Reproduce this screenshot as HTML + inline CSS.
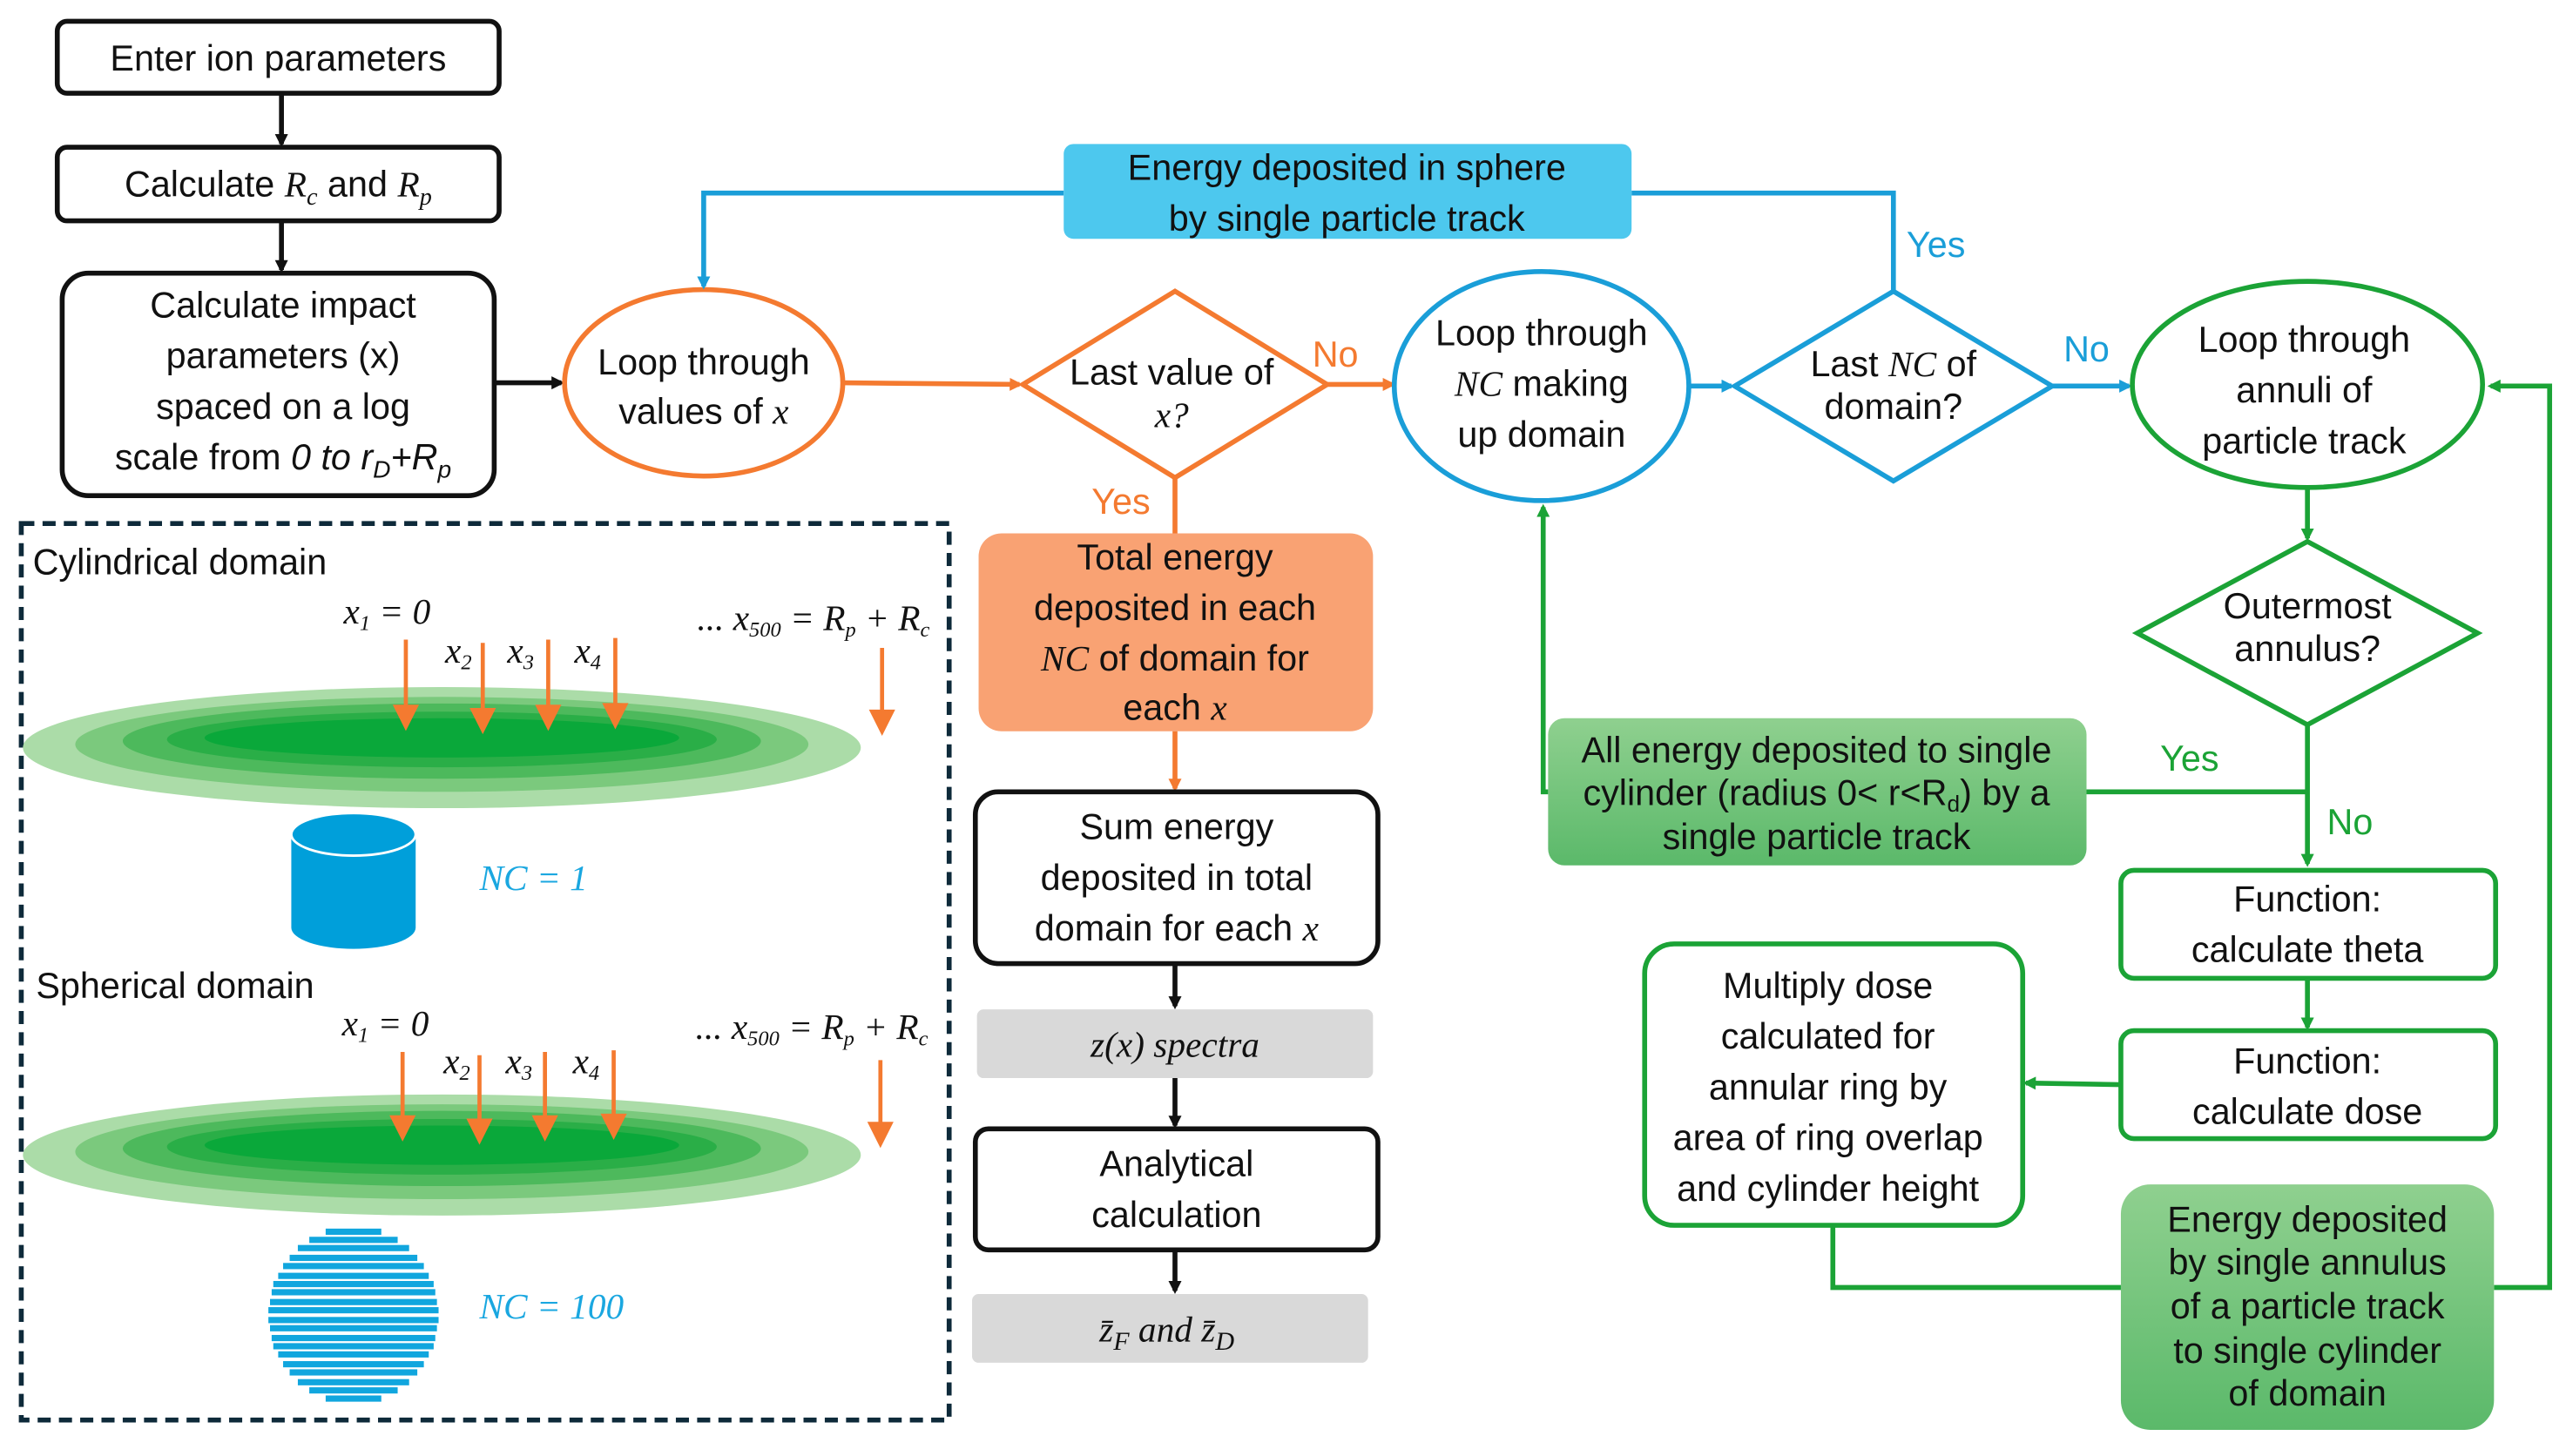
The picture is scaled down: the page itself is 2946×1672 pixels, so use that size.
<!DOCTYPE html>
<html><head><meta charset="utf-8"><style>
html,body{margin:0;padding:0;background:#fff;}
svg{display:block;}
text{font-family:"Liberation Sans",sans-serif;font-size:22px;fill:#111;}
.m{font-family:"Liberation Serif",serif;font-style:italic;}
</style></head><body>
<svg width="2946" height="1672" viewBox="0 0 1568 890" preserveAspectRatio="none" xmlns="http://www.w3.org/2000/svg">
<defs>
<marker id="ak" markerWidth="8" markerHeight="8" refX="6" refY="4" orient="auto" markerUnits="userSpaceOnUse"><path d="M0,0 L8,4 L0,8 Z" fill="#111"/></marker>
<marker id="ao" markerWidth="8" markerHeight="8" refX="6" refY="4" orient="auto" markerUnits="userSpaceOnUse"><path d="M0,0 L8,4 L0,8 Z" fill="#F47A30"/></marker>
<marker id="ab" markerWidth="8" markerHeight="8" refX="6" refY="4" orient="auto" markerUnits="userSpaceOnUse"><path d="M0,0 L8,4 L0,8 Z" fill="#1A9ED8"/></marker>
<marker id="ag" markerWidth="8" markerHeight="8" refX="6" refY="4" orient="auto" markerUnits="userSpaceOnUse"><path d="M0,0 L8,4 L0,8 Z" fill="#1BA336"/></marker>
<linearGradient id="gg" x1="0" y1="0" x2="0" y2="1"><stop offset="0" stop-color="#8fd08f"/><stop offset="1" stop-color="#5bb96a"/></linearGradient>
</defs>

<rect x="35" y="13" width="270" height="44" rx="6" fill="#fff" stroke="#111" stroke-width="3"/>
<text x="170" y="43" text-anchor="middle">Enter ion parameters</text>
<rect x="35" y="90" width="270" height="45" rx="6" fill="#fff" stroke="#111" stroke-width="3"/>
<text x="170" y="120" text-anchor="middle">Calculate <tspan class="m">R</tspan><tspan class="m" font-size="15" dy="5">c</tspan><tspan dy="-5"> and </tspan><tspan class="m">R</tspan><tspan class="m" font-size="15" dy="5">p</tspan></text>
<rect x="38" y="167" width="264" height="136" rx="16" fill="#fff" stroke="#111" stroke-width="3"/>
<text x="173" y="194" text-anchor="middle">Calculate impact</text>
<text x="173" y="225" text-anchor="middle">parameters (x)</text>
<text x="173" y="256" text-anchor="middle">spaced on a log</text>
<text x="173" y="287" text-anchor="middle">scale from <tspan font-style="italic">0 to r</tspan><tspan font-style="italic" font-size="15" dy="5">D</tspan><tspan dy="-5" font-style="italic">+R</tspan><tspan font-style="italic" font-size="15" dy="5">p</tspan></text>
<line x1="172" y1="57" x2="172" y2="88" stroke="#111" stroke-width="3" marker-end="url(#ak)"/>
<line x1="172" y1="135" x2="172" y2="165" stroke="#111" stroke-width="3" marker-end="url(#ak)"/>
<line x1="302" y1="234" x2="343" y2="234" stroke="#111" stroke-width="3" marker-end="url(#ak)"/>

<ellipse cx="430" cy="234" rx="85" ry="57" fill="#fff" stroke="#F47A30" stroke-width="3"/>
<text x="430" y="229" text-anchor="middle">Loop through</text>
<text x="430" y="259" text-anchor="middle">values of <tspan class="m">x</tspan></text>
<line x1="515" y1="234" x2="623" y2="235" stroke="#F47A30" stroke-width="3" marker-end="url(#ao)"/>
<polygon points="718,178 811,235 718,292 625,235" fill="#fff" stroke="#F47A30" stroke-width="3"/>
<text x="716" y="235" text-anchor="middle" font-size="20">Last value of</text>
<text x="716" y="261" text-anchor="middle" font-size="20" class="m">x?</text>
<line x1="811" y1="235" x2="851" y2="235" stroke="#F47A30" stroke-width="3" marker-end="url(#ao)"/>
<text x="816" y="224" text-anchor="middle" style="fill:#F47A30">No</text>
<line x1="718" y1="292" x2="718" y2="326" stroke="#F47A30" stroke-width="3"/>
<text x="685" y="314" text-anchor="middle" style="fill:#F47A30">Yes</text>
<rect x="598" y="326" width="241" height="121" rx="14" fill="#F9A273"/>
<text x="718" y="348" text-anchor="middle">Total energy</text>
<text x="718" y="379" text-anchor="middle">deposited in each</text>
<text x="718" y="410" text-anchor="middle"><tspan class="m">NC</tspan> of domain for</text>
<text x="718" y="440" text-anchor="middle">each <tspan class="m">x</tspan></text>
<line x1="718" y1="447" x2="718" y2="482" stroke="#F47A30" stroke-width="3" marker-end="url(#ao)"/>

<rect x="596" y="484" width="246" height="105" rx="14" fill="#fff" stroke="#111" stroke-width="3"/>
<text x="719" y="513" text-anchor="middle">Sum energy</text>
<text x="719" y="544" text-anchor="middle">deposited in total</text>
<text x="719" y="575" text-anchor="middle">domain for each <tspan class="m">x</tspan></text>
<line x1="718" y1="589" x2="718" y2="615" stroke="#111" stroke-width="3" marker-end="url(#ak)"/>
<rect x="597" y="617" width="242" height="42" rx="4" fill="#D9D9D9"/>
<text x="718" y="646" text-anchor="middle" class="m" font-size="24">z(x) spectra</text>
<line x1="718" y1="659" x2="718" y2="688" stroke="#111" stroke-width="3" marker-end="url(#ak)"/>
<rect x="596" y="690" width="246" height="74" rx="8" fill="#fff" stroke="#111" stroke-width="3"/>
<text x="719" y="719" text-anchor="middle">Analytical</text>
<text x="719" y="750" text-anchor="middle">calculation</text>
<line x1="718" y1="764" x2="718" y2="789" stroke="#111" stroke-width="3" marker-end="url(#ak)"/>
<rect x="594" y="791" width="242" height="42" rx="4" fill="#D9D9D9"/>
<text x="713" y="820" text-anchor="middle" class="m" font-size="24">z̄<tspan font-size="16" dy="5">F</tspan><tspan dy="-5"> and z̄</tspan><tspan font-size="16" dy="5">D</tspan></text>

<polyline points="650,118 430,118 430,175" fill="none" stroke="#1A9ED8" stroke-width="3" marker-end="url(#ab)"/>
<polyline points="1157,178 1157,118 997,118" fill="none" stroke="#1A9ED8" stroke-width="3"/>
<rect x="650" y="88" width="347" height="58" rx="6" fill="#4DC8EE"/>
<text x="823" y="110" text-anchor="middle">Energy deposited in sphere</text>
<text x="823" y="141" text-anchor="middle">by single particle track</text>
<text x="1183" y="157" text-anchor="middle" style="fill:#1A9ED8">Yes</text>
<ellipse cx="942" cy="236" rx="90" ry="70" fill="#fff" stroke="#1A9ED8" stroke-width="3"/>
<text x="942" y="211" text-anchor="middle">Loop through</text>
<text x="942" y="242" text-anchor="middle"><tspan class="m">NC</tspan> making</text>
<text x="942" y="273" text-anchor="middle">up domain</text>
<line x1="1032" y1="236" x2="1058" y2="236" stroke="#1A9ED8" stroke-width="3" marker-end="url(#ab)"/>
<polygon points="1157,178 1254,236 1157,294 1060,236" fill="#fff" stroke="#1A9ED8" stroke-width="3"/>
<text x="1157" y="230" text-anchor="middle" font-size="20">Last <tspan class="m">NC</tspan> of</text>
<text x="1157" y="256" text-anchor="middle" font-size="20">domain?</text>
<line x1="1254" y1="236" x2="1301" y2="236" stroke="#1A9ED8" stroke-width="3" marker-end="url(#ab)"/>
<text x="1275" y="221" text-anchor="middle" style="fill:#1A9ED8">No</text>

<ellipse cx="1410" cy="235" rx="107" ry="63" fill="#fff" stroke="#1BA336" stroke-width="3"/>
<text x="1408" y="215" text-anchor="middle">Loop through</text>
<text x="1408" y="246" text-anchor="middle">annuli of</text>
<text x="1408" y="277" text-anchor="middle">particle track</text>
<line x1="1410" y1="298" x2="1410" y2="329" stroke="#1BA336" stroke-width="3" marker-end="url(#ag)"/>
<polygon points="1410,331 1514,387 1410,443 1306,387" fill="#fff" stroke="#1BA336" stroke-width="3"/>
<text x="1410" y="378" text-anchor="middle" font-size="20">Outermost</text>
<text x="1410" y="404" text-anchor="middle" font-size="20">annulus?</text>
<line x1="1410" y1="443" x2="1410" y2="528" stroke="#1BA336" stroke-width="3" marker-end="url(#ag)"/>
<line x1="1410" y1="484" x2="1275" y2="484" stroke="#1BA336" stroke-width="3"/>
<text x="1338" y="471" text-anchor="middle" style="fill:#1BA336">Yes</text>
<text x="1436" y="510" text-anchor="middle" style="fill:#1BA336">No</text>
<polyline points="946,484 943,484 943,310" fill="none" stroke="#1BA336" stroke-width="3" marker-end="url(#ag)"/>
<rect x="946" y="439" width="329" height="90" rx="10" fill="url(#gg)"/>
<text x="1110" y="466" text-anchor="middle" font-size="20">All energy deposited to single</text>
<text x="1110" y="492" text-anchor="middle" font-size="20">cylinder (radius 0&lt; r&lt;R<tspan font-size="14" dy="4">d</tspan><tspan dy="-4">) by a</tspan></text>
<text x="1110" y="519" text-anchor="middle" font-size="20">single particle track</text>
<rect x="1296" y="532" width="229" height="66" rx="8" fill="#fff" stroke="#1BA336" stroke-width="3"/>
<text x="1410" y="557" text-anchor="middle">Function:</text>
<text x="1410" y="588" text-anchor="middle">calculate theta</text>
<line x1="1410" y1="598" x2="1410" y2="628" stroke="#1BA336" stroke-width="3" marker-end="url(#ag)"/>
<rect x="1296" y="630" width="229" height="66" rx="8" fill="#fff" stroke="#1BA336" stroke-width="3"/>
<text x="1410" y="656" text-anchor="middle">Function:</text>
<text x="1410" y="687" text-anchor="middle">calculate dose</text>
<line x1="1296" y1="663" x2="1238" y2="662" stroke="#1BA336" stroke-width="3" marker-end="url(#ag)"/>
<rect x="1005" y="577" width="231" height="172" rx="18" fill="#fff" stroke="#1BA336" stroke-width="3"/>
<text x="1117" y="610" text-anchor="middle">Multiply dose</text>
<text x="1117" y="641" text-anchor="middle">calculated for</text>
<text x="1117" y="672" text-anchor="middle">annular ring by</text>
<text x="1117" y="703" text-anchor="middle">area of ring overlap</text>
<text x="1117" y="734" text-anchor="middle">and cylinder height</text>
<polyline points="1120,749 1120,787 1296,787" fill="none" stroke="#1BA336" stroke-width="3"/>
<polyline points="1524,787 1558,787 1558,236 1522,236" fill="none" stroke="#1BA336" stroke-width="3" marker-end="url(#ag)"/>
<rect x="1296" y="724" width="228" height="150" rx="18" fill="url(#gg)"/>
<text x="1410" y="753" text-anchor="middle" font-size="20">Energy deposited</text>
<text x="1410" y="779" text-anchor="middle" font-size="20">by single annulus</text>
<text x="1410" y="806" text-anchor="middle" font-size="20">of a particle track</text>
<text x="1410" y="833" text-anchor="middle" font-size="20">to single cylinder</text>
<text x="1410" y="859" text-anchor="middle" font-size="20">of domain</text>

<rect x="13" y="320" width="567" height="548" fill="none" stroke="#0e2a3a" stroke-width="3" stroke-dasharray="8,5"/>
<text x="20" y="351">Cylindrical domain</text>
<g>
<ellipse cx="270" cy="457" rx="256" ry="37" fill="#ABDCA8"/>
<ellipse cx="270" cy="455" rx="224" ry="29" fill="#7BC97D"/>
<ellipse cx="270" cy="453" rx="195" ry="23" fill="#4DB95C"/>
<ellipse cx="270" cy="452" rx="168" ry="17" fill="#2AAE47"/>
<ellipse cx="270" cy="451" rx="145" ry="12" fill="#0AA83A"/>
</g>
<g stroke="#F47A30" stroke-width="2.5" fill="#F47A30">
<line x1="248" y1="391" x2="248" y2="433"/><path d="M242,432 L254,432 L248,444Z"/>
<line x1="295" y1="393" x2="295" y2="435"/><path d="M289,434 L301,434 L295,446Z"/>
<line x1="335" y1="391" x2="335" y2="433"/><path d="M329,432 L341,432 L335,444Z"/>
<line x1="376" y1="390" x2="376" y2="432"/><path d="M370,431 L382,431 L376,443Z"/>
<line x1="539" y1="396" x2="539" y2="436"/><path d="M533,435 L545,435 L539,447Z"/>
</g>
<text x="210" y="381" class="m" font-size="19">x<tspan font-size="13" dy="4">1</tspan><tspan dy="-4"> = 0</tspan></text>
<text x="272" y="405" class="m" font-size="19">x<tspan font-size="13" dy="4">2</tspan></text>
<text x="310" y="405" class="m" font-size="19">x<tspan font-size="13" dy="4">3</tspan></text>
<text x="351" y="405" class="m" font-size="19">x<tspan font-size="13" dy="4">4</tspan></text>
<text x="426" y="385" class="m" font-size="19">... x<tspan font-size="13" dy="4">500</tspan><tspan dy="-4"> = R</tspan><tspan font-size="13" dy="4">p</tspan><tspan dy="-4"> + R</tspan><tspan font-size="13" dy="4">c</tspan></text>
<path d="M178,510 L178,567 A38,13 0 0 0 254,567 L254,510 Z" fill="#009FDA"/>
<ellipse cx="216" cy="510" rx="38" ry="13" fill="#009FDA" stroke="#fff" stroke-width="1.5"/>
<text x="293" y="544" class="m" font-size="27" style="fill:#1AA7E0">NC = 1</text>

<text x="22" y="610">Spherical domain</text>
<g>
<ellipse cx="270" cy="706" rx="256" ry="37" fill="#ABDCA8"/>
<ellipse cx="270" cy="704" rx="224" ry="29" fill="#7BC97D"/>
<ellipse cx="270" cy="702" rx="195" ry="23" fill="#4DB95C"/>
<ellipse cx="270" cy="701" rx="168" ry="17" fill="#2AAE47"/>
<ellipse cx="270" cy="700" rx="145" ry="12" fill="#0AA83A"/>
</g>
<g stroke="#F47A30" stroke-width="2.5" fill="#F47A30">
<line x1="246" y1="643" x2="246" y2="684"/><path d="M240,683 L252,683 L246,695Z"/>
<line x1="293" y1="645" x2="293" y2="686"/><path d="M287,685 L299,685 L293,697Z"/>
<line x1="333" y1="643" x2="333" y2="684"/><path d="M327,683 L339,683 L333,695Z"/>
<line x1="375" y1="642" x2="375" y2="683"/><path d="M369,682 L381,682 L375,694Z"/>
<line x1="538" y1="648" x2="538" y2="688"/><path d="M532,687 L544,687 L538,699Z"/>
</g>
<text x="209" y="633" class="m" font-size="19">x<tspan font-size="13" dy="4">1</tspan><tspan dy="-4"> = 0</tspan></text>
<text x="271" y="656" class="m" font-size="19">x<tspan font-size="13" dy="4">2</tspan></text>
<text x="309" y="656" class="m" font-size="19">x<tspan font-size="13" dy="4">3</tspan></text>
<text x="350" y="656" class="m" font-size="19">x<tspan font-size="13" dy="4">4</tspan></text>
<text x="425" y="635" class="m" font-size="19">... x<tspan font-size="13" dy="4">500</tspan><tspan dy="-4"> = R</tspan><tspan font-size="13" dy="4">p</tspan><tspan dy="-4"> + R</tspan><tspan font-size="13" dy="4">c</tspan></text>
<g fill="#11A6DE">
<rect x="199" y="751" width="34" height="3.8"/>
<rect x="189" y="756" width="54" height="3.8"/>
<rect x="182" y="761" width="68" height="3.8"/>
<rect x="177" y="767" width="78" height="3.8"/>
<rect x="173" y="772" width="86" height="3.8"/>
<rect x="170" y="778" width="92" height="3.8"/>
<rect x="167" y="783" width="98" height="3.8"/>
<rect x="166" y="788" width="100" height="3.8"/>
<rect x="165" y="794" width="102" height="3.8"/>
<rect x="164" y="799" width="104" height="3.8"/>
<rect x="164" y="805" width="104" height="3.8"/>
<rect x="165" y="810" width="102" height="3.8"/>
<rect x="166" y="816" width="100" height="3.8"/>
<rect x="167" y="821" width="98" height="3.8"/>
<rect x="170" y="826" width="92" height="3.8"/>
<rect x="173" y="832" width="86" height="3.8"/>
<rect x="177" y="837" width="78" height="3.8"/>
<rect x="182" y="843" width="68" height="3.8"/>
<rect x="189" y="848" width="54" height="3.8"/>
<rect x="199" y="853" width="34" height="3.8"/>
</g>
<text x="293" y="806" class="m" font-size="27" style="fill:#1AA7E0">NC = 100</text>
</svg>
</body></html>
